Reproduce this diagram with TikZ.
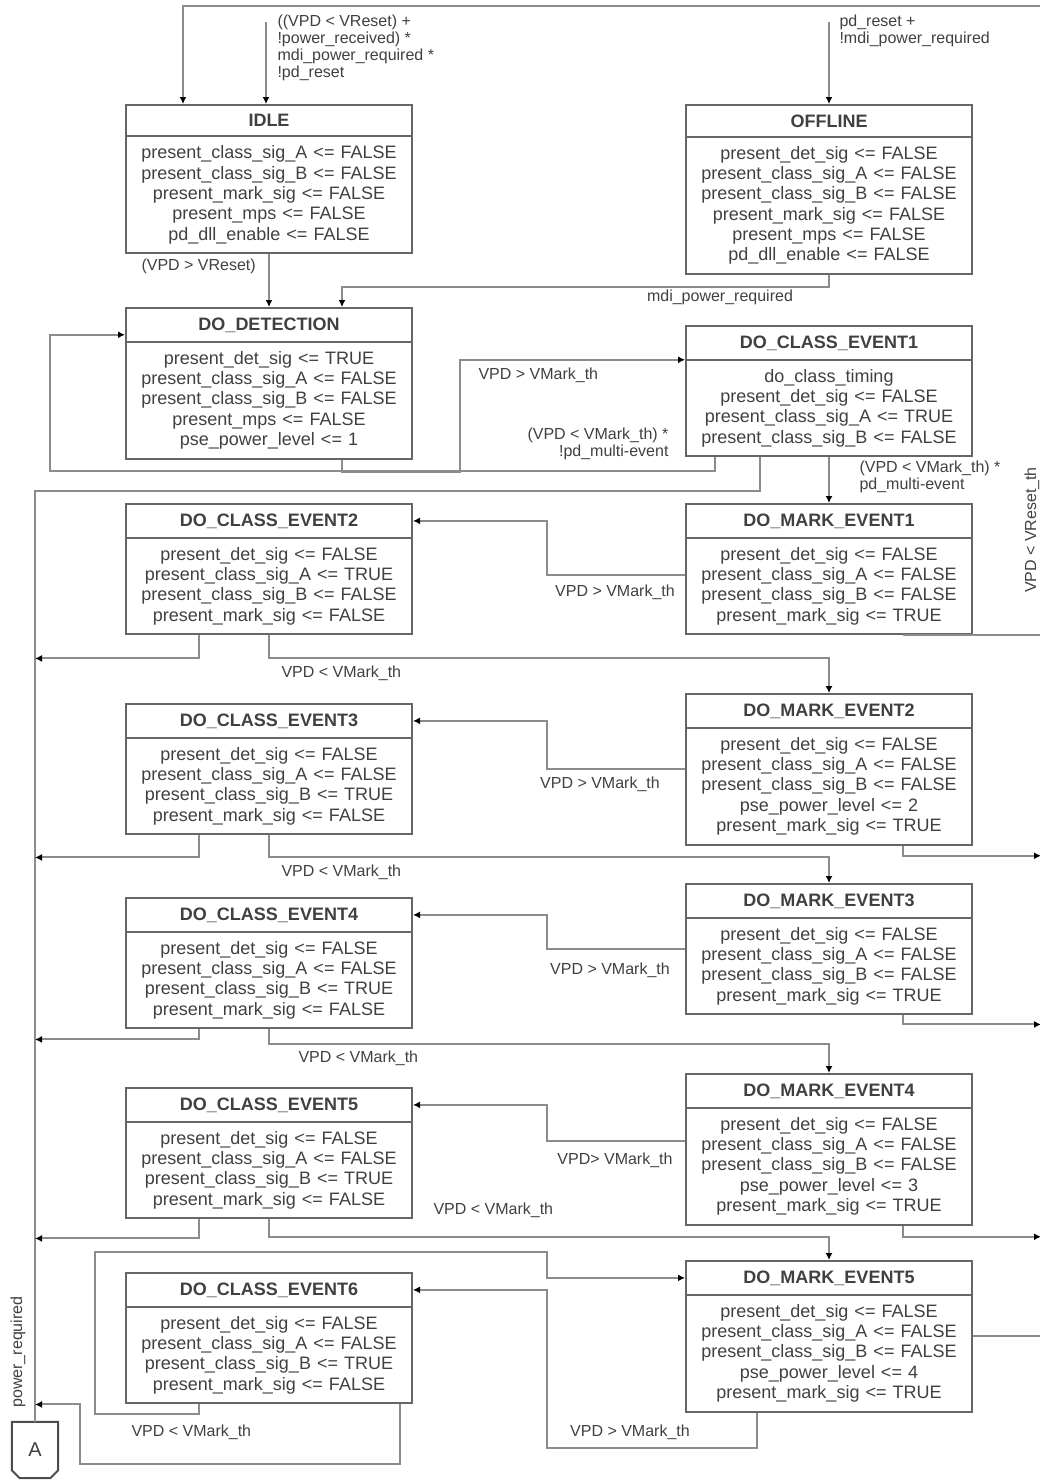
\documentclass[tikz,border=0pt]{standalone}
\usepackage{fontspec}
\setmainfont{Liberation Sans}
\usetikzlibrary{arrows.meta,shapes.multipart}

\begin{document}
\begin{tikzpicture}[x=1pt, y=-1pt,
    every node/.style={font=\fontsize{16}{17}\selectfont, text=black!75},
    state/.style={rectangle split, rectangle split parts=2, draw=black!60,
      line width=2pt, anchor=north, text width=278pt, align=center,
      inner xsep=4pt, inner ysep=8.5pt, font=\fontsize{18}{20.3}\selectfont},
    wire/.style={draw=black!45, line width=2pt},
    tr/.style={wire, -{Latex[length=7pt, width=7pt, color=black]}}]

  \useasboundingbox (0,0) rectangle (1040,1481);

  % states
  \node[state] (idle) at (269,104) {\textbf{IDLE}\nodepart{two}
    present\_class\_sig\_A <= FALSE\\present\_class\_sig\_B <= FALSE\\
    present\_mark\_sig <= FALSE\\present\_mps <= FALSE\\pd\_dll\_enable <= FALSE};
  \node[state] (offline) at (829,104) {\textbf{OFFLINE}\nodepart{two}
    present\_det\_sig <= FALSE\\present\_class\_sig\_A <= FALSE\\
    present\_class\_sig\_B <= FALSE\\present\_mark\_sig <= FALSE\\
    present\_mps <= FALSE\\pd\_dll\_enable <= FALSE};
  \node[state] (det) at (269,307) {\textbf{DO\_DETECTION}\nodepart{two}
    present\_det\_sig <= TRUE\\present\_class\_sig\_A <= FALSE\\
    present\_class\_sig\_B <= FALSE\\present\_mps <= FALSE\\pse\_power\_level <= 1};
  \node[state] (cls1) at (829,325) {\textbf{DO\_CLASS\_EVENT1}\nodepart{two}
    do\_class\_timing\\present\_det\_sig <= FALSE\\
    present\_class\_sig\_A <= TRUE\\present\_class\_sig\_B <= FALSE};
  \node[state] (cls2) at (269,503) {\textbf{DO\_CLASS\_EVENT2}\nodepart{two}
    present\_det\_sig <= FALSE\\present\_class\_sig\_A <= TRUE\\
    present\_class\_sig\_B <= FALSE\\present\_mark\_sig <= FALSE};
  \node[state] (mrk1) at (829,503) {\textbf{DO\_MARK\_EVENT1}\nodepart{two}
    present\_det\_sig <= FALSE\\present\_class\_sig\_A <= FALSE\\
    present\_class\_sig\_B <= FALSE\\present\_mark\_sig <= TRUE};
  \node[state] (cls3) at (269,703) {\textbf{DO\_CLASS\_EVENT3}\nodepart{two}
    present\_det\_sig <= FALSE\\present\_class\_sig\_A <= FALSE\\
    present\_class\_sig\_B <= TRUE\\present\_mark\_sig <= FALSE};
  \node[state] (mrk2) at (829,693) {\textbf{DO\_MARK\_EVENT2}\nodepart{two}
    present\_det\_sig <= FALSE\\present\_class\_sig\_A <= FALSE\\
    present\_class\_sig\_B <= FALSE\\pse\_power\_level <= 2\\present\_mark\_sig <= TRUE};
  \node[state] (cls4) at (269,897) {\textbf{DO\_CLASS\_EVENT4}\nodepart{two}
    present\_det\_sig <= FALSE\\present\_class\_sig\_A <= FALSE\\
    present\_class\_sig\_B <= TRUE\\present\_mark\_sig <= FALSE};
  \node[state] (mrk3) at (829,883) {\textbf{DO\_MARK\_EVENT3}\nodepart{two}
    present\_det\_sig <= FALSE\\present\_class\_sig\_A <= FALSE\\
    present\_class\_sig\_B <= FALSE\\present\_mark\_sig <= TRUE};
  \node[state] (cls5) at (269,1087) {\textbf{DO\_CLASS\_EVENT5}\nodepart{two}
    present\_det\_sig <= FALSE\\present\_class\_sig\_A <= FALSE\\
    present\_class\_sig\_B <= TRUE\\present\_mark\_sig <= FALSE};
  \node[state] (mrk4) at (829,1073) {\textbf{DO\_MARK\_EVENT4}\nodepart{two}
    present\_det\_sig <= FALSE\\present\_class\_sig\_A <= FALSE\\
    present\_class\_sig\_B <= FALSE\\pse\_power\_level <= 3\\present\_mark\_sig <= TRUE};
  \node[state] (cls6) at (269,1272) {\textbf{DO\_CLASS\_EVENT6}\nodepart{two}
    present\_det\_sig <= FALSE\\present\_class\_sig\_A <= FALSE\\
    present\_class\_sig\_B <= TRUE\\present\_mark\_sig <= FALSE};
  \node[state] (mrk5) at (829,1260) {\textbf{DO\_MARK\_EVENT5}\nodepart{two}
    present\_det\_sig <= FALSE\\present\_class\_sig\_A <= FALSE\\
    present\_class\_sig\_B <= FALSE\\pse\_power\_level <= 4\\present\_mark\_sig <= TRUE};

  % off-page connector
  \node[minimum width=46pt, minimum height=56pt, font=\fontsize{20}{22}\selectfont] (conA) at (35,1450) {A};
  \draw[black!70, line width=2pt] (conA.north west) -- ([yshift=8pt]conA.south west)
    -- ([xshift=8pt]conA.south west) -- ([xshift=-8pt]conA.south east)
    -- ([yshift=8pt]conA.south east) -- (conA.north east) -- cycle;

  % resets
  \coordinate (rstI) at (266,22);
  \coordinate (rstO) at (829,22);
  \coordinate (rbus) at (1041,6);
  \coordinate (rbusEnd) at (1041,1335);
  \draw[tr] (rstI) -- (rstI |- idle.north);
  \node[anchor=north west, align=left] (lrstI) at (274,11) {((VPD < VReset) +\\!power\_received) *\\mdi\_power\_required *\\!pd\_reset};
  \draw[tr] (rstO) -- (offline.north);
  \node[anchor=north west, align=left] (lrstO) at (836,11) {pd\_reset +\\!mdi\_power\_required};
  \draw[wire] (rbusEnd) -- (rbus);
  \draw[tr] (rbus) -| ([xshift=-86pt]idle.north);
  \node[rotate=90] (lrbus) at (1032,530) {VPD < VReset\_th};

  % detection
  \draw[tr] (idle.south) -- (det.north);
  \node[anchor=west] (lidle) at (138,266) {(VPD > VReset)};
  \draw[tr] (offline.south) -- ++(0,12) -| ([xshift=73pt]det.north);
  \node (loff) at (720,297) {mdi\_power\_required};
  \draw[tr] ([xshift=73pt]det.south) -- ++(0,12) -- ++(118,0) |- (cls1.text split west);
  \node[anchor=west] (ldet) at (475,375) {VPD > VMark\_th};
  \draw[tr] ([xshift=-114pt]cls1.south) -- ++(0,14) -- ++(-665,0) |- ([yshift=7pt]det.text split west);
  \node[anchor=east, align=right] (lcls1d) at (672,444) {(VPD < VMark\_th) *\\!pd\_multi-event};
  \draw[wire] ([xshift=-69pt]cls1.south) -- ++(0,34) -| (conA.north);
  \node[rotate=90] (lpwr) at (18,1352) {power\_required};
  \draw[tr] (cls1.south) -- (mrk1.north);
  \node[anchor=west, align=left] (lcls1m) at (856,477) {(VPD < VMark\_th) *\\pd\_multi-event};

  % class / mark events
  \draw[tr] ([yshift=-6pt]mrk1.west) -- ++(-138,0) |- (cls2.text east);
  \node (lmrk1) at (615,592) {VPD > VMark\_th};
  \draw[wire] ([xshift=74pt]mrk1.south) -- ++(138,0);
  \draw[tr] ([xshift=-70pt]cls2.south) -- ++(0,23) -- ++(-164,0);
  \draw[tr] (cls2.south) -- ++(0,23) -| (mrk2.north);
  \node[anchor=west] (lcls2) at (278,673) {VPD < VMark\_th};

  \draw[tr] (mrk2.west) -- ++(-138,0) |- (cls3.text east);
  \node (lmrk2) at (600,784) {VPD > VMark\_th};
  \draw[tr] ([xshift=74pt]mrk2.south) -- ++(0,10) -- ++(138,0);
  \draw[tr] ([xshift=-70pt]cls3.south) -- ++(0,22) -- ++(-164,0);
  \draw[tr] (cls3.south) -- ++(0,22) -| (mrk3.north);
  \node[anchor=west] (lcls3) at (278,872) {VPD < VMark\_th};

  \draw[tr] (mrk3.west) -- ++(-138,0) |- (cls4.text east);
  \node (lmrk3) at (610,970) {VPD > VMark\_th};
  \draw[tr] ([xshift=74pt]mrk3.south) -- ++(0,9) -- ++(138,0);
  \draw[tr] ([xshift=-70pt]cls4.south) -- ++(0,10) -- ++(-164,0);
  \draw[tr] (cls4.south) -- ++(0,15) -| (mrk4.north);
  \node[anchor=west] (lcls4) at (295,1058) {VPD < VMark\_th};

  \draw[tr] ([yshift=8pt]mrk4.west) -- ++(-138,0) |- (cls5.text east);
  \node (lmrk4) at (615,1160) {VPD> VMark\_th};
  \draw[tr] ([xshift=74pt]mrk4.south) -- ++(0,11) -- ++(138,0);
  \draw[tr] ([xshift=-70pt]cls5.south) -- ++(0,19) -- ++(-164,0);
  \draw[tr] (cls5.south) -- ++(0,18) -| (mrk5.north);
  \node[anchor=west] (lcls5) at (430,1210) {VPD < VMark\_th};

  \coordinate (c6up) at (95,1252);
  \draw[tr] ([xshift=-70pt]cls6.south) -- ++(0,10) -| (c6up) -- ++(452,0) |- (mrk5.text west);
  \node[anchor=west] (lcls6) at (128,1432) {VPD < VMark\_th};
  \draw[tr] ([xshift=-72pt]mrk5.south) -- ++(0,35) -- ++(-210,0) |- (cls6.text east);
  \node (lmrk5) at (630,1432) {VPD > VMark\_th};
  \draw[tr] ([xshift=131pt]cls6.south) -- ++(0,60) -- ++(-320,0) -- ++(0,-60) -- ++(-45,0);
  \draw[wire] (mrk5.east) -- ++(68,0);
\end{tikzpicture}
\end{document}
